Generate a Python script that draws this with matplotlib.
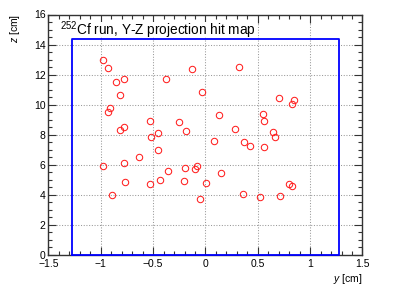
import matplotlib
matplotlib.use("Agg")
import matplotlib.pyplot as plt
from matplotlib.patches import Rectangle
from matplotlib.ticker import MultipleLocator

plt.rcParams['font.family'] = ['Liberation Sans', 'DejaVu Sans']
plt.rcParams['mathtext.fontset'] = 'custom'
plt.rcParams['mathtext.rm'] = 'Liberation Sans'
plt.rcParams['mathtext.it'] = 'Liberation Sans:italic'
plt.rcParams['axes.unicode_minus'] = True

# hit positions (y, z) in cm
hit_y = [-0.975, -0.933, -0.778, -0.854, -0.374, -0.127, 0.324, -0.816, -0.031, 0.703,
         0.841, 0.822, -0.911, -0.933, 0.127, 0.546, -0.533, -0.254, 0.562, -0.781,
         -0.816, -0.184, 0.283, -0.454, 0.641, 0.667, -0.517, 0.083, 0.365, 0.422,
         0.562, -0.456, -0.638, -0.774, -0.975, -0.355, -0.199, -0.079, -0.098, 0.146,
         -0.768, -0.438, -0.533, -0.206, 0.006, 0.800, 0.825, -0.895, 0.362, 0.521,
         0.714, -0.057]
hit_z = [12.97, 12.41, 11.68, 11.48, 11.68, 12.35, 12.52, 10.65, 10.81, 10.46,
         10.30, 10.03, 9.77, 9.50, 9.30, 9.39, 8.92, 8.85, 8.90, 8.50,
         8.28, 8.23, 8.37, 8.08, 8.14, 7.86, 7.81, 7.60, 7.52, 7.24,
         7.20, 6.95, 6.52, 6.10, 5.92, 5.59, 5.74, 5.92, 5.68, 5.46,
         4.81, 4.99, 4.68, 4.88, 4.74, 4.68, 4.59, 3.97, 4.01, 3.81,
         3.92, 3.70]

# detector outline (y, z)
outline_y = [-1.28, -1.28, 1.28, 1.28, -1.28]
outline_z = [0.0, 14.4, 14.4, 0.0, 0.0]

x_range = (-1.5, 1.5)
z_range = (0, 16)

fig = plt.figure(figsize=(4.03, 2.90), dpi=100)
ax = fig.add_axes([0.1203, 0.1224, 0.7792, 0.8276])

ax.plot(outline_y, outline_z, color='#0000ff', lw=1.3, zorder=3, clip_on=False)
ax.plot(hit_y, hit_z, linestyle='none', marker='o', markersize=4.6,
        markerfacecolor='none', markeredgecolor='#ff2020', markeredgewidth=0.75, zorder=4)

ax.set_xlim(*x_range)
ax.set_ylim(*z_range)
ax.xaxis.set_major_locator(MultipleLocator(0.5))
ax.xaxis.set_minor_locator(MultipleLocator(0.1))
ax.yaxis.set_major_locator(MultipleLocator(2))
ax.yaxis.set_minor_locator(MultipleLocator(0.5))

def fmt(v, pos):
    s = ('%g' % v)
    return s.replace('-', '\u2212')
ax.xaxis.set_major_formatter(plt.FuncFormatter(fmt))
ax.yaxis.set_major_formatter(plt.FuncFormatter(fmt))

ax.tick_params(which='both', direction='in', top=True, right=True, labelsize=7.5,
               color='#333333')
ax.tick_params(which='major', length=5.5, width=0.8)
ax.tick_params(which='minor', length=2.8, width=0.8)
ax.tick_params(axis='x', pad=3.5)
ax.tick_params(axis='y', pad=2.0)
ax.grid(True, which='major', linestyle=(0, (1, 1.6)), color='#999999', lw=0.75)
for s in ax.spines.values():
    s.set_linewidth(1.0)
    s.set_color('#333333')

# title pave
ax.add_patch(Rectangle((0.02, 0.906), 0.64, 0.063, transform=ax.transAxes,
                       facecolor='white', edgecolor='none', zorder=2))
ax.text(0.0366, 0.9146, r'$^{252}$Cf run, Y-Z projection hit map', transform=ax.transAxes,
        fontsize=9.8, va='baseline', ha='left', zorder=5)

fig.text(363/403, 1 - 282/290, r'$\it{y}$ [cm]', ha='right', va='baseline', fontsize=7.5)
fig.text(15/403, 1 - 14/290, r'$\it{z}$ [cm]', ha='center', va='top', rotation=90, fontsize=7.5)

fig.savefig('out.png', dpi=100)
